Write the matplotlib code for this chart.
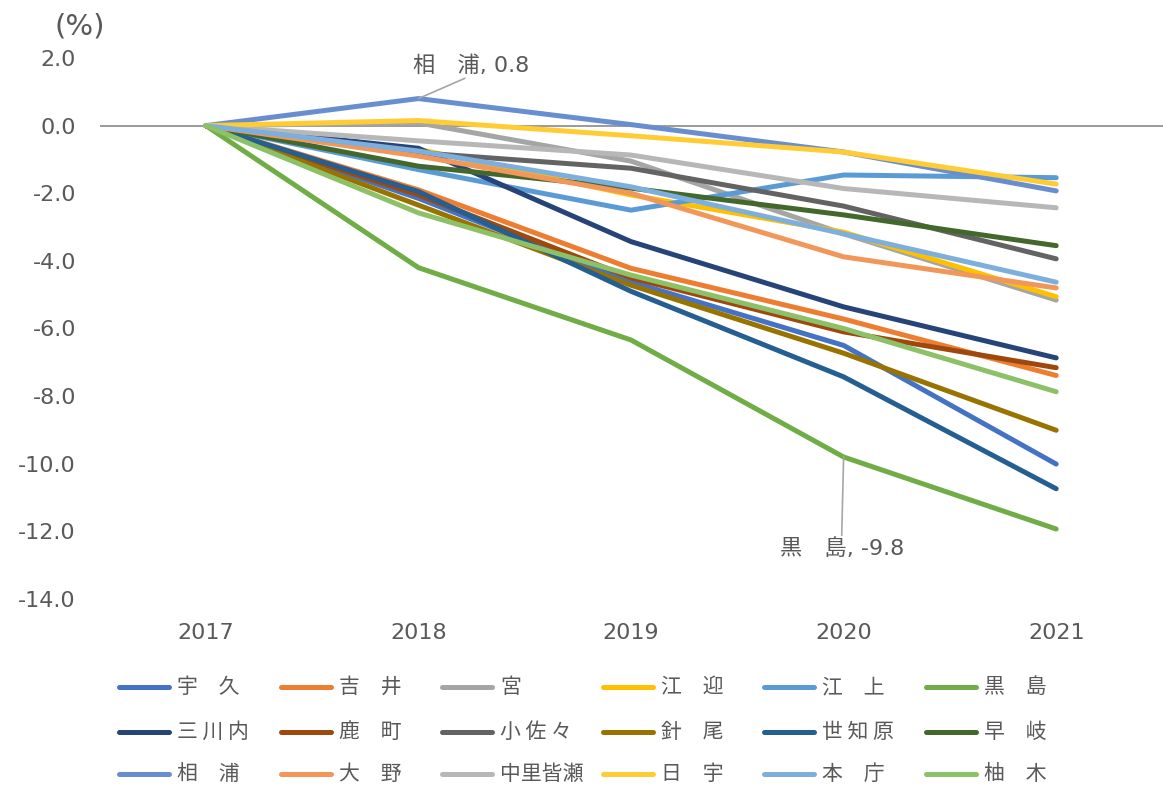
import matplotlib
matplotlib.use("Agg")
import matplotlib.pyplot as plt
from matplotlib.lines import Line2D

plt.rcParams['font.family'] = ['DejaVu Sans', 'Noto Sans CJK JP']

years = ['2017', '2018', '2019', '2020', '2021']

names = ['宇　久', '吉　井', '宮', '江　迎', '江　上', '黒　島',
         '三 川 内', '鹿　町', '小 佐 々', '針　尾', '世 知 原', '早　岐',
         '相　浦', '大　野', '中里皆瀬', '日　宇', '本　庁', '柚　木']

colors = ['#4472C4', '#ED7D31', '#A5A5A5', '#FFC000', '#5B9BD5', '#70AD47',
          '#264478', '#9E480E', '#636363', '#997300', '#255E91', '#43682B',
          '#698ED0', '#F1975A', '#B7B7B7', '#FFCD33', '#7CAFDD', '#8CC168']

uku = [0, -2.15, -4.62, -6.5, -10.01]
yoshii = [0, -1.9, -4.22, -5.72, -7.39]
miya = [0, 0.08, -1.05, -3.2, -5.16]
emukae = [0, -0.7, -2.05, -3.15, -5.06]
egami = [0, -1.3, -2.5, -1.46, -1.54]
kuroshima = [0, -4.2, -6.34, -9.8, -11.93]
mikawachi = [0, -0.67, -3.43, -5.36, -6.87]
shikamachi = [0, -2.05, -4.5, -6.1, -7.16]
kosaza = [0, -0.8, -1.26, -2.38, -3.94]
hario = [0, -2.35, -4.72, -6.73, -9.01]
sechibaru = [0, -1.95, -4.9, -7.43, -10.74]
haiki = [0, -1.2, -1.85, -2.64, -3.55]
ainoura = [0, 0.8, 0.03, -0.78, -1.93]
ono = [0, -0.9, -2.0, -3.88, -4.8]
nakazato = [0, -0.45, -0.87, -1.86, -2.43]
hiu = [0, 0.15, -0.3, -0.78, -1.73]
honcho = [0, -0.75, -1.81, -3.2, -4.63]
yunoki = [0, -2.58, -4.42, -6.0, -7.87]

series = [uku, yoshii, miya, emukae, egami, kuroshima,
          mikawachi, shikamachi, kosaza, hario, sechibaru, haiki,
          ainoura, ono, nakazato, hiu, honcho, yunoki]

W, H = 1163, 789
fig = plt.figure(figsize=(W / 100, H / 100), dpi=100)
ax = fig.add_axes([99.5 / W, 1 - 599 / H, 1063 / W, 541 / H])

txt = '#595959'
x = range(len(years))
lines = []
for name, vals, c in zip(names, series, colors):
    ln, = ax.plot(x, vals, color=c, lw=3.6, solid_capstyle='round',
                  solid_joinstyle='round', label=name, zorder=3)
    lines.append(ln)

ax.axhline(0, color='#898989', lw=1.2, zorder=1)

ax.set_xlim(-0.5, 4.5)
ax.set_ylim(-14, 2)
ax.set_yticks(range(-14, 3, 2))
ax.set_yticklabels([f'{v:.1f}' for v in range(-14, 3, 2)])
ax.set_xticks(list(x))
ax.set_xticklabels(years)
ax.tick_params(axis='y', length=0, pad=17, labelsize=16, labelcolor=txt)
ax.tick_params(axis='x', length=0, pad=17, labelsize=16, labelcolor=txt)
for s in ax.spines.values():
    s.set_visible(False)

fig.text(80 / W, 1 - 27 / H, '(%)', ha='center', va='center',
         fontsize=21, color=txt)

# data labels with leader lines
ax.annotate('相　浦, 0.8', xy=(1, ainoura[1]), xytext=(38, 24),
            textcoords='offset points', ha='center', va='center',
            fontsize=16, color=txt,
            arrowprops=dict(arrowstyle='-', color='#A6A6A6', lw=1.2,
                            shrinkA=0, shrinkB=0, relpos=(0.5, 0)))
ax.annotate('黒　島, -9.8', xy=(3, kuroshima[3]), xytext=(-1.4, -66),
            textcoords='offset points', ha='center', va='center',
            fontsize=16, color=txt,
            arrowprops=dict(arrowstyle='-', color='#A6A6A6', lw=1.2,
                            shrinkA=0, shrinkB=0, relpos=(0.5, 1)))

# legend, 3 rows x 6 columns, row-major like the original
col_x = [119, 281, 442, 603, 764, 926]
row_y = [687, 732, 774]
for i, ln in enumerate(lines):
    r, c = divmod(i, 6)
    x0 = col_x[c]
    y0 = row_y[r]
    fig.add_artist(Line2D([x0 / W, (x0 + 50) / W], [1 - y0 / H, 1 - y0 / H],
                          transform=fig.transFigure, color=ln.get_color(),
                          lw=3.6, solid_capstyle='round'))
    fig.text((x0 + 58) / W, 1 - y0 / H, ln.get_label(), ha='left',
             va='center', fontsize=15, color=txt,
             family=['Noto Sans CJK JP', 'DejaVu Sans'])

fig.savefig('out.png', dpi=100)
